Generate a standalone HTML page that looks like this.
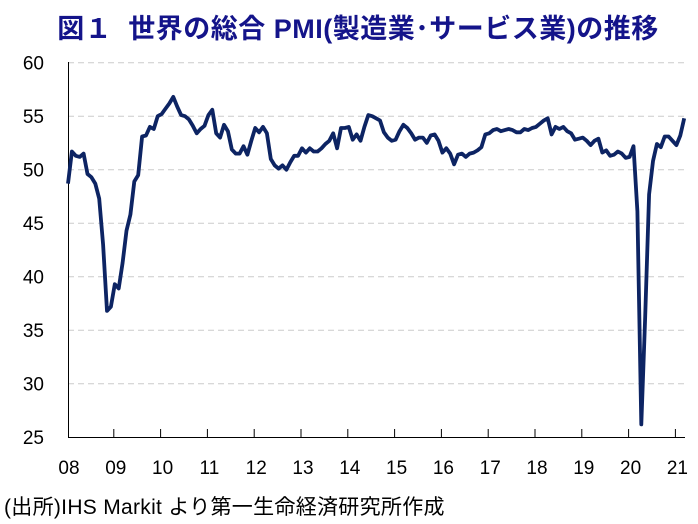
<!DOCTYPE html>
<html><head><meta charset="utf-8"><style>
html,body{margin:0;padding:0;background:#fff;}
body{width:698px;height:524px;overflow:hidden;position:relative;font-family:"Liberation Sans","Noto Sans CJK JP",sans-serif;}
.t{position:absolute;left:0;width:716px;top:7px;text-align:center;font-size:27px;font-weight:bold;color:#14148a;white-space:nowrap;letter-spacing:0.5px;}
svg{position:absolute;left:0;top:0;}
.src{position:absolute;left:4px;top:491px;font-size:21px;color:#000;white-space:nowrap;font-family:"Liberation Sans Narrow","Liberation Sans","Noto Sans CJK JP",sans-serif;letter-spacing:0.3px;}
</style></head><body>
<div class="t">図１&nbsp;&nbsp;世界の総合 PMI(製造業･サービス業)の推移</div>
<svg id="s" width="698" height="524" xmlns="http://www.w3.org/2000/svg"></svg>
<div class="src">(出所)IHS Markit より第一生命経済研究所作成</div>
<script>
var d=[48.7,51.7,51.3,51.2,51.5,49.6,49.3,48.7,47.3,43,36.8,37.2,
39.3,38.9,41.3,44.3,45.8,48.9,49.5,53.1,53.2,54,53.8,55,
55.2,55.7,56.2,56.8,55.9,55.1,55,54.7,54.1,53.4,53.8,54.1,
55.1,55.6,53.4,53.0,54.2,53.6,51.9,51.5,51.5,52.2,51.4,52.7,
53.9,53.5,54.0,53.4,51.0,50.4,50.1,50.4,50.0,50.7,51.3,51.3,
52.0,51.6,52.0,51.7,51.7,52.0,52.4,52.7,53.4,52.0,53.9,53.9,
54.0,52.8,53.3,52.7,54.0,55.1,55.0,54.8,54.6,53.5,53.0,52.7,
52.8,53.6,54.2,53.9,53.4,52.8,53.0,53.0,52.5,53.2,53.3,52.7,
51.6,52.0,51.5,50.5,51.4,51.5,51.2,51.5,51.6,51.8,52.1,53.3,
53.4,53.7,53.8,53.6,53.7,53.8,53.7,53.5,53.5,53.8,53.7,53.9,
54.0,54.3,54.6,54.8,53.3,54.0,53.8,54.0,53.6,53.4,52.8,52.9,
53.0,52.7,52.3,52.7,52.9,51.6,51.8,51.3,51.4,51.7,51.5,51.1,
51.2,52.2,46.1,26.2,36.3,47.7,50.8,52.4,52.1,53.1,53.1,52.7,
52.3,53.2,54.8];
function Y(v){return 62.7+(60-v)*10.7;}
var x0=68,py=46.8,h='';
for(var v=60;v>=30;v-=5)h+='<line x1="68" x2="685" y1="'+Y(v)+'" y2="'+Y(v)+'" stroke="#cccccc" stroke-width="1" stroke-dasharray="6,4"/>';
h+='<line x1="68.5" x2="68.5" y1="62" y2="437" stroke="#000" stroke-width="1"/>';
h+='<line x1="68" x2="685" y1="437.5" y2="437.5" stroke="#000" stroke-width="1"/>';
for(var k=1;k<=13;k++){var x=(x0+py*k-1).toFixed(1);h+='<line x1="'+x+'" x2="'+x+'" y1="429" y2="437" stroke="#000"/>';}
for(var v=60;v>=25;v-=5)h+='<text x="44" y="'+(Y(v)+7)+'" text-anchor="end" font-size="19" fill="#000" font-family="Liberation Sans Narrow, Liberation Sans, sans-serif">'+v+'</text>';
var yrs=['08','09','10','11','12','13','14','15','16','17','18','19','20','21'];
for(var k=0;k<14;k++)h+='<text x="'+(x0+py*k+1)+'" y="474" text-anchor="middle" font-size="19" fill="#000" font-family="Liberation Sans Narrow, Liberation Sans, sans-serif">'+yrs[k]+'</text>';
var p=[];for(var i=0;i<d.length;i++)p.push((x0+i*py/12).toFixed(1)+','+Y(d[i]).toFixed(1));
h+='<polyline points="'+p.join(' ')+'" fill="none" stroke="#0d2463" stroke-width="3.8" stroke-linejoin="round"/>';
document.getElementById('s').innerHTML=h;
</script>
</body></html>
